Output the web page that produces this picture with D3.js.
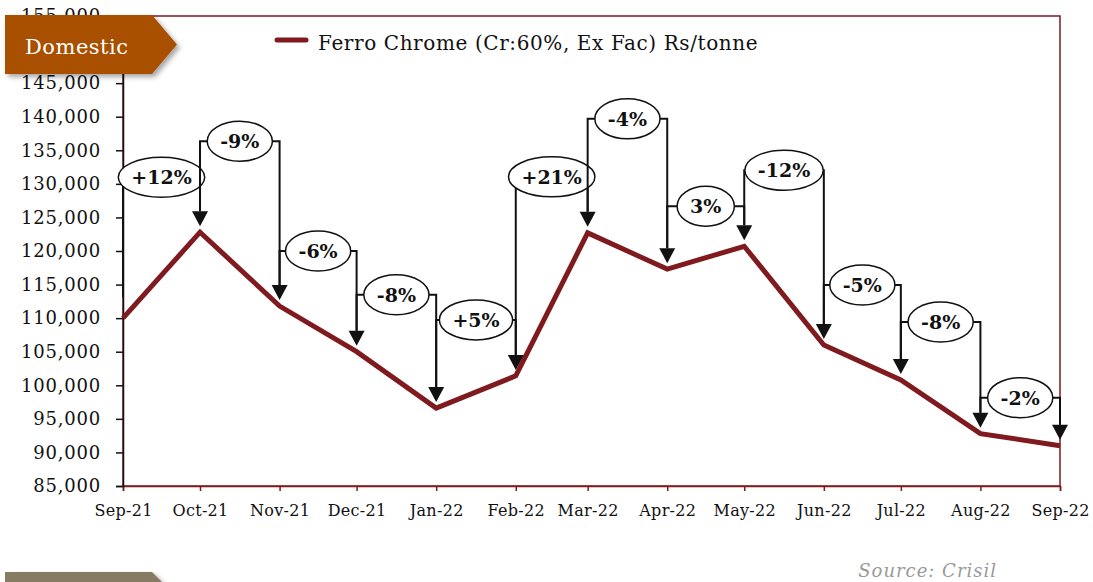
<!DOCTYPE html>
<html lang="en">
<head>
  <meta charset="UTF-8"/>
  <title>Ferro Chrome price</title>
  <script src="https://d3js.org/d3.v7.min.js"></script>
  <style>
    body { margin: 0; background: #fff; }
    svg { display: block; font-family: 'DejaVu Serif', serif; }
    .tick text { fill: #111; }
    .callout text { font-weight: bold; font-size: 19px; fill: #111; }
  </style>
</head>
<body>
  <svg width="1093" height="582"></svg>

  <script>
    // monthly ex-factory prices, Rs/tonne
    const months = ['2021-09-01', '2021-10-01', '2021-11-01', '2021-12-01', '2022-01-01', '2022-02-01',
      '2022-03-01', '2022-04-01', '2022-05-01', '2022-06-01', '2022-07-01', '2022-08-01', '2022-09-01'];
    const prices = [110000, 122800, 111800, 105000, 96600, 101400, 122700, 117300, 120700, 106000, 100800, 92800, 91000];
    const changes = ['+12%', '-9%', '-6%', '-8%', '+5%', '+21%', '-4%', '3%', '-12%', '-5%', '-8%', '-2%'];
    const yTicks = d3.range(85000, 155001, 5000);

    // how far (px) each callout sits above the higher of its two points
    const calloutLift = [55, 91, 55, 57, 56, 56, 114, 40, 76, 60, 58, 36];

    const parse = d3.timeParse('%Y-%m-%d');
    const dates = months.map(parse);
    const data = dates.map((d, i) => ({ date: d, value: prices[i] }));

    const svg = d3.select('svg');
    const plotL = 123, plotR = 1060, plotT = 16, plotB = 486;
    const maroon = '#7f1a1f';
    const serif = "'DejaVu Serif', serif";

    const x = d3.scaleTime().domain([dates[0], dates[dates.length - 1]]).range([plotL, plotR]);
    const y = d3.scaleLinear().domain([85000, 155000]).range([plotB, plotT]);

    // plot frame
    svg.append('rect')
      .attr('x', plotL).attr('y', plotT)
      .attr('width', plotR - plotL).attr('height', plotB - plotT)
      .attr('fill', 'none').attr('stroke', maroon).attr('stroke-width', 1.5);

    // x axis
    const xAxis = svg.append('g')
      .attr('transform', `translate(0, ${plotB})`)
      .call(d3.axisBottom(x).tickValues(dates).tickFormat(d3.timeFormat('%b-%y')).tickSize(5).tickPadding(14))
      .attr('font-family', serif);
    xAxis.select('.domain').attr('stroke', maroon).attr('stroke-width', 1.5);
    xAxis.selectAll('.tick line').attr('stroke', maroon).attr('stroke-width', 1.5);
    xAxis.selectAll('.tick text').style('font-size', '16px').style('letter-spacing', '0.3px');

    // y axis (the 150,000 label sits under the banner, so it stays blank)
    const yAxis = svg.append('g')
      .attr('transform', `translate(${plotL}, 0)`)
      .call(d3.axisLeft(y).tickValues(yTicks)
        .tickFormat(d => d === 150000 ? '' : d3.format(',')(d))
        .tickSize(7).tickPadding(15))
      .attr('font-family', serif);
    yAxis.select('.domain').attr('stroke', '#111').attr('stroke-width', 1.5);
    yAxis.selectAll('.tick line').attr('stroke', '#111').attr('stroke-width', 1.5);
    yAxis.selectAll('.tick text').style('font-size', '18px').style('letter-spacing', '0.8px');

    // price line
    svg.append('path')
      .datum(data)
      .attr('fill', 'none')
      .attr('stroke', maroon)
      .attr('stroke-width', 5)
      .attr('stroke-linejoin', 'miter')
      .attr('d', d3.line().x(d => x(d.date)).y(d => y(d.value)));

    // callouts: bracket from month i to month i+1 with an arrow down onto i+1
    const callouts = svg.append('g').attr('class', 'callout');
    const arrowGap = 6, headH = 15, headW = 8;

    changes.forEach((label, i) => {
      const x0 = x(dates[i]), x1 = x(dates[i + 1]);
      const y0 = y(prices[i]), y1 = y(prices[i + 1]);
      const level = Math.min(y0, y1) - calloutLift[i];
      const cx = (x0 + x1) / 2;
      const g = callouts.append('g');

      g.append('path')
        .attr('d', `M${x0},${y0 - arrowGap - headH}V${level}H${x1}V${y1 - arrowGap - headH}`)
        .attr('fill', 'none').attr('stroke', '#111').attr('stroke-width', 2);
      g.append('path')
        .attr('d', `M${x1 - headW},${y1 - arrowGap - headH}L${x1 + headW},${y1 - arrowGap - headH}L${x1},${y1 - arrowGap}Z`)
        .attr('fill', '#111');

      const ell = g.append('ellipse').attr('cx', cx).attr('cy', level)
        .attr('fill', '#fff').attr('stroke', '#111').attr('stroke-width', 1.5);
      const t = g.append('text')
        .attr('x', cx).attr('y', level + 7)
        .attr('text-anchor', 'middle')
        .text(label);
      const w = t.node().getComputedTextLength();
      ell.attr('rx', Math.max(w / 2 + 13, 25)).attr('ry', 20);
    });

    // legend
    svg.append('line')
      .attr('x1', 277).attr('x2', 306).attr('y1', 40).attr('y2', 40)
      .attr('stroke', maroon).attr('stroke-width', 5).attr('stroke-linecap', 'round');
    svg.append('text')
      .attr('x', 318).attr('y', 50)
      .style('font-size', '20px').style('letter-spacing', '0.6px').attr('fill', '#111')
      .text('Ferro Chrome (Cr:60%, Ex Fac) Rs/tonne');

    // banners
    const defs = svg.append('defs');
    const shadow = defs.append('filter').attr('id', 'shadow')
      .attr('x', '-10%').attr('y', '-20%').attr('width', '130%').attr('height', '150%');
    shadow.append('feDropShadow')
      .attr('dx', 3).attr('dy', 3).attr('stdDeviation', 2.5)
      .attr('flood-color', '#000').attr('flood-opacity', 0.35);

    svg.append('path')
      .attr('d', 'M5,15H152L177,44.5L152,74H5Z')
      .attr('fill', '#a84f00')
      .attr('filter', 'url(#shadow)');
    svg.append('text')
      .attr('x', 25).attr('y', 54)
      .style('font-size', '21px').style('letter-spacing', '0.5px').attr('fill', '#fff')
      .text('Domestic');

    svg.append('path')
      .attr('d', 'M5,572H152L162,582H5Z')
      .attr('fill', '#857b63')
      .attr('filter', 'url(#shadow)');

    svg.append('text')
      .attr('x', 997).attr('y', 577)
      .attr('text-anchor', 'end')
      .style('font-size', '18px').style('font-style', 'italic').style('letter-spacing', '1px')
      .attr('fill', '#9a9a9a')
      .text('Source: Crisil');
  </script>
</body>
</html>
